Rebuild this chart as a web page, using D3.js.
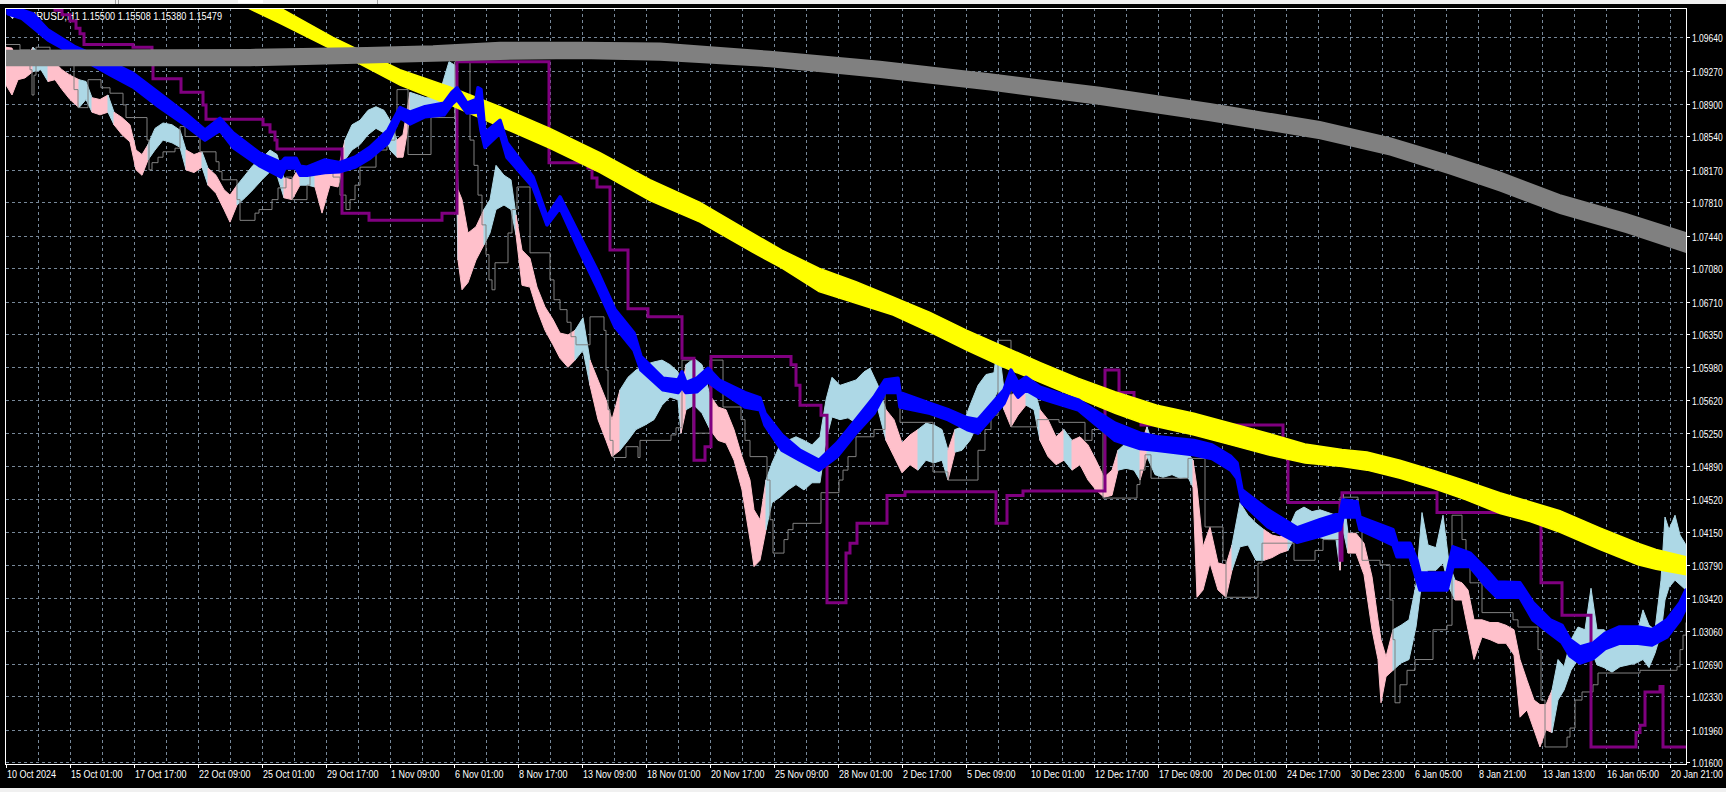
<!DOCTYPE html>
<meta charset="utf-8">
<style>
body { margin: 0; background: #000; }
svg { display: block; font-family: "Liberation Sans", Arial, sans-serif; }
.grid line { stroke: #778899; stroke-dasharray: 3,3; shape-rendering: crispEdges; }
.frame { fill: none; stroke: #fff; shape-rendering: crispEdges; }
.axis text { fill: #fff; font-size: 10px; }
.axis line { stroke: #fff; shape-rendering: crispEdges; }
</style>
<body>
<script src="https://cdn.jsdelivr.net/npm/d3@7/dist/d3.min.js"></script>
<script>

var width = 1726, height = 792;
var plotL = 6, plotR = 1686, plotT = 8, plotB = 764;

var symbol = "EURUSD,H1";
var quote = "1.15500 1.15508 1.15380 1.15479";

var priceTicks = ["1.09640", "1.09270", "1.08900", "1.08540", "1.08170", "1.07810",
  "1.07440", "1.07080", "1.06710", "1.06350", "1.05980", "1.05620", "1.05250",
  "1.04890", "1.04520", "1.04150", "1.03790", "1.03420", "1.03060", "1.02690",
  "1.02330", "1.01960", "1.01600"];

var timeLabels = ["10 Oct 2024", "15 Oct 01:00", "17 Oct 17:00", "22 Oct 09:00",
  "25 Oct 01:00", "29 Oct 17:00", "1 Nov 09:00", "6 Nov 01:00", "8 Nov 17:00",
  "13 Nov 09:00", "18 Nov 01:00", "20 Nov 17:00", "25 Nov 09:00", "28 Nov 01:00",
  "2 Dec 17:00", "5 Dec 09:00", "10 Dec 01:00", "12 Dec 17:00", "17 Dec 09:00",
  "20 Dec 01:00", "24 Dec 17:00", "30 Dec 23:00", "6 Jan 05:00", "8 Jan 21:00",
  "13 Jan 13:00", "16 Jan 05:00", "20 Jan 21:00"];

// hourly bars, sampled: [bar, high, low, rising]
var priceRows = [
  [0,1.0953,1.0911,0],[6,1.0952,1.0900,0],[12,1.0937,1.0917,0],[19,1.0939,1.0919,0],
  [27,1.0953,1.0926,1],[35,1.0944,1.0928,1],[42,1.0933,1.0915,0],[49,1.0936,1.0917,0],
  [56,1.0928,1.0906,0],[64,1.0922,1.0895,0],[73,1.0917,1.0886,1],[80,1.0915,1.0895,1],
  [86,1.0897,1.0881,0],[94,1.0895,1.0878,0],[102,1.0900,1.0881,1],[108,1.0881,1.0867,0],
  [116,1.0875,1.0856,0],[124,1.0867,1.0848,0],[130,1.0839,1.0817,0],[136,1.0834,1.0811,0],
  [142,1.0845,1.0828,1],[149,1.0863,1.0839,1],[157,1.0869,1.0850,1],[166,1.0867,1.0847,1],
  [174,1.0861,1.0842,1],[180,1.0839,1.0817,0],[188,1.0834,1.0814,0],[196,1.0837,1.0820,1],
  [202,1.0819,1.0800,0],[210,1.0811,1.0791,0],[218,1.0795,1.0773,0],[224,1.0789,1.0759,0],
  [231,1.0800,1.0778,1],[239,1.0811,1.0786,1],[247,1.0822,1.0795,1],[256,1.0830,1.0806,1],
  [264,1.0839,1.0815,1],[271,1.0834,1.0811,1],[278,1.0808,1.0786,0],[286,1.0806,1.0784,0],
  [294,1.0822,1.0800,1],[302,1.0819,1.0800,1],[309,1.0822,1.0798,0],[316,1.0817,1.0769,0],
  [324,1.0819,1.0800,0],[332,1.0817,1.0798,0],[339,1.0850,1.0828,1],[346,1.0867,1.0839,1],
  [354,1.0872,1.0845,1],[362,1.0883,1.0856,1],[370,1.0887,1.0863,1],[378,1.0883,1.0858,1],
  [384,1.0872,1.0839,1],[391,1.0850,1.0831,0],[397,1.0856,1.0831,0],[404,1.0903,1.0876,1],
  [412,1.0900,1.0878,1],[420,1.0897,1.0880,1],[428,1.0897,1.0881,1],[436,1.0911,1.0889,1],
  [443,1.0937,1.0900,1],[449,1.0933,1.0895,1],[452,1.0795,1.0717,0],[456,1.0784,1.0684,0],
  [462,1.0747,1.0692,0],[470,1.0754,1.0717,0],[478,1.0773,1.0734,1],[484,1.0784,1.0747,1],
  [490,1.0822,1.0773,1],[498,1.0811,1.0778,1],[505,1.0806,1.0773,1],[510,1.0767,1.0745,0],
  [516,1.0728,1.0689,0],[524,1.0719,1.0687,0],[531,1.0687,1.0662,0],[539,1.0665,1.0639,0],
  [547,1.0651,1.0623,0],[554,1.0636,1.0608,0],[562,1.0634,1.0598,0],[569,1.0639,1.0606,1],
  [577,1.0653,1.0617,1],[584,1.0606,1.0578,0],[592,1.0584,1.0540,0],[600,1.0562,1.0517,0],
  [606,1.0540,1.0499,0],[614,1.0573,1.0506,1],[622,1.0587,1.0517,1],[630,1.0595,1.0529,1],
  [639,1.0601,1.0534,1],[648,1.0604,1.0540,1],[656,1.0606,1.0556,1],[664,1.0601,1.0565,1],
  [672,1.0593,1.0562,1],[675,1.0570,1.0525,0],[680,1.0601,1.0551,1],[688,1.0608,1.0556,1],
  [696,1.0601,1.0547,1],[704,1.0567,1.0529,0],[712,1.0554,1.0517,0],[720,1.0551,1.0514,0],
  [728,1.0529,1.0495,0],[736,1.0499,1.0462,0],[744,1.0473,1.0407,0],[748,1.0440,1.0377,0],
  [754,1.0429,1.0384,0],[760,1.0473,1.0418,1],[766,1.0492,1.0448,1],[774,1.0512,1.0454,1],
  [782,1.0517,1.0462,1],[790,1.0521,1.0468,1],[798,1.0517,1.0462,1],[806,1.0512,1.0470,1],
  [814,1.0521,1.0470,1],[820,1.0562,1.0517,1],[826,1.0587,1.0543,1],[834,1.0578,1.0540,1],
  [842,1.0581,1.0542,1],[850,1.0584,1.0536,1],[858,1.0593,1.0551,1],[864,1.0597,1.0556,1],
  [872,1.0578,1.0551,1],[880,1.0551,1.0517,0],[888,1.0540,1.0499,0],[896,1.0514,1.0481,0],
  [904,1.0523,1.0490,0],[912,1.0529,1.0484,1],[920,1.0536,1.0495,1],[928,1.0534,1.0492,1],
  [936,1.0529,1.0495,1],[942,1.0506,1.0473,0],[949,1.0529,1.0504,1],[956,1.0532,1.0506,1],
  [964,1.0556,1.0517,1],[972,1.0578,1.0536,1],[980,1.0590,1.0545,1],[988,1.0592,1.0562,1],
  [992,1.0628,1.0573,1],[998,1.0573,1.0551,0],[1005,1.0567,1.0532,0],[1012,1.0573,1.0545,0],
  [1020,1.0581,1.0556,1],[1028,1.0575,1.0551,1],[1034,1.0551,1.0517,0],[1042,1.0540,1.0499,0],
  [1050,1.0521,1.0490,0],[1058,1.0529,1.0495,1],[1066,1.0517,1.0484,0],[1074,1.0521,1.0490,0],
  [1082,1.0512,1.0473,0],[1090,1.0495,1.0462,0],[1098,1.0476,1.0454,0],[1106,1.0484,1.0456,0],
  [1112,1.0506,1.0484,1],[1120,1.0514,1.0486,1],[1128,1.0512,1.0484,1],[1134,1.0510,1.0473,0],
  [1141,1.0532,1.0499,1],[1149,1.0506,1.0479,1],[1157,1.0504,1.0476,1],[1166,1.0506,1.0479,1],
  [1174,1.0501,1.0475,1],[1182,1.0503,1.0476,1],[1187,1.0495,1.0465,0],[1191,1.0465,1.0343,0],
  [1197,1.0399,1.0351,0],[1204,1.0421,1.0381,0],[1212,1.0381,1.0351,0],[1220,1.0379,1.0343,0],
  [1226,1.0401,1.0373,1],[1234,1.0448,1.0399,1],[1242,1.0434,1.0401,1],[1250,1.0425,1.0384,1],
  [1258,1.0418,1.0384,0],[1266,1.0412,1.0387,0],[1274,1.0410,1.0392,0],[1282,1.0418,1.0395,1],
  [1290,1.0438,1.0412,1],[1298,1.0443,1.0418,1],[1306,1.0438,1.0412,1],[1314,1.0440,1.0409,1],
  [1322,1.0437,1.0407,1],[1330,1.0434,1.0407,1],[1334,1.0407,1.0373,0],[1337,1.0459,1.0418,1],
  [1342,1.0414,1.0392,0],[1350,1.0414,1.0392,0],[1358,1.0403,1.0368,0],[1366,1.0366,1.0307,0],
  [1372,1.0318,1.0274,0],[1375,1.0296,1.0226,0],[1380,1.0277,1.0255,0],[1387,1.0307,1.0262,1],
  [1395,1.0312,1.0270,1],[1403,1.0318,1.0274,1],[1410,1.0357,1.0310,1],[1416,1.0437,1.0362,1],
  [1422,1.0401,1.0373,1],[1430,1.0398,1.0373,1],[1437,1.0434,1.0381,1],[1443,1.0381,1.0354,1],
  [1449,1.0362,1.0340,0],[1456,1.0359,1.0340,0],[1462,1.0351,1.0307,0],[1468,1.0318,1.0274,0],
  [1476,1.0318,1.0299,0],[1484,1.0315,1.0296,0],[1492,1.0315,1.0292,0],[1500,1.0312,1.0292,0],
  [1508,1.0307,1.0279,0],[1514,1.0274,1.0210,0],[1521,1.0251,1.0218,0],[1528,1.0229,1.0196,0],
  [1534,1.0224,1.0177,0],[1540,1.0224,1.0196,0],[1546,1.0240,1.0193,1],[1552,1.0274,1.0229,1],
  [1558,1.0266,1.0240,1],[1565,1.0296,1.0262,1],[1572,1.0310,1.0274,1],[1579,1.0307,1.0274,1],
  [1585,1.0353,1.0285,1],[1591,1.0307,1.0268,1],[1598,1.0307,1.0265,1],[1606,1.0299,1.0260,1],
  [1614,1.0296,1.0266,1],[1622,1.0296,1.0268,1],[1630,1.0299,1.0270,1],[1637,1.0329,1.0274,1],
  [1643,1.0312,1.0265,1],[1649,1.0307,1.0281,1],[1655,1.0362,1.0303,1],[1659,1.0432,1.0340,1],
  [1663,1.0418,1.0354,1],[1669,1.0434,1.0362,1],[1674,1.0412,1.0357,1],[1680,1.0401,1.0351,1]
];

// band indicators: [bar, upper, lower]
var blueBand = [
  [2,1.0999,1.0990],[16,1.0994,1.0985],[27,1.0990,1.0975],[42,1.0972,1.0961],[68,1.0954,1.0945],
  [105,1.0936,1.0922],[127,1.0924,1.0909],[153,1.0902,1.0887],[179,1.0880,1.0867],[199,1.0861,1.0850],
  [214,1.0874,1.0861],[227,1.0858,1.0842],[253,1.0836,1.0822],[275,1.0825,1.0809],[279,1.0830,1.0819],
  [290,1.0830,1.0819],[294,1.0821,1.0811],[301,1.0820,1.0811],[319,1.0828,1.0814],[334,1.0825,1.0815],
  [349,1.0831,1.0820],[364,1.0842,1.0830],[382,1.0861,1.0847],[394,1.0886,1.0875],[404,1.0881,1.0868],
  [419,1.0887,1.0876],[438,1.0891,1.0878],[446,1.0903,1.0890],[451,1.0908,1.0895],[461,1.0891,1.0880],
  [470,1.0895,1.0881],[472,1.0908,1.0883],[475,1.0906,1.0861],[479,1.0858,1.0842],[494,1.0872,1.0858],
  [501,1.0847,1.0831],[527,1.0809,1.0798],[541,1.0765,1.0756],[554,1.0787,1.0775],[574,1.0743,1.0726],
  [591,1.0706,1.0687],[609,1.0662,1.0643],[628,1.0636,1.0617],[635,1.0610,1.0595],[657,1.0586,1.0573],
  [672,1.0584,1.0570],[676,1.0593,1.0576],[680,1.0581,1.0570],[691,1.0586,1.0571],[702,1.0597,1.0582],
  [713,1.0584,1.0573],[739,1.0570,1.0554],[754,1.0564,1.0551],[759,1.0547,1.0534],[776,1.0523,1.0506],
  [794,1.0506,1.0495],[813,1.0495,1.0484],[831,1.0514,1.0499],[850,1.0540,1.0525],[868,1.0565,1.0547],
  [879,1.0584,1.0570],[892,1.0586,1.0570],[894,1.0570,1.0554],[924,1.0558,1.0547],[942,1.0551,1.0540],
  [961,1.0542,1.0529],[972,1.0540,1.0525],[998,1.0573,1.0558],[1005,1.0595,1.0576],[1012,1.0581,1.0565],
  [1020,1.0587,1.0573],[1034,1.0576,1.0564],[1072,1.0562,1.0551],[1109,1.0536,1.0517],[1134,1.0525,1.0508],
  [1151,1.0521,1.0506],[1188,1.0517,1.0501],[1206,1.0512,1.0497],[1225,1.0499,1.0484],[1231,1.0492,1.0475],
  [1236,1.0462,1.0448],[1262,1.0440,1.0421],[1291,1.0420,1.0404],[1314,1.0429,1.0411],[1334,1.0436,1.0418],
  [1337,1.0451,1.0432],[1351,1.0449,1.0432],[1354,1.0432,1.0418],[1387,1.0418,1.0401],[1391,1.0403,1.0388],
  [1404,1.0403,1.0388],[1411,1.0384,1.0362],[1414,1.0370,1.0351],[1441,1.0370,1.0351],[1447,1.0399,1.0377],
  [1464,1.0392,1.0377],[1481,1.0373,1.0354],[1491,1.0360,1.0343],[1514,1.0359,1.0343],[1527,1.0337,1.0318],
  [1544,1.0318,1.0303],[1556,1.0312,1.0293],[1564,1.0296,1.0278],[1574,1.0288,1.0270],[1587,1.0292,1.0275],
  [1599,1.0303,1.0286],[1613,1.0310,1.0292],[1632,1.0310,1.0292],[1646,1.0307,1.0290],[1661,1.0318,1.0299],
  [1674,1.0337,1.0318],[1680,1.0351,1.0332]
];

var yellowBand = [
  [224,1.1025,1.1006],[275,1.0996,1.0979],[327,1.0964,1.0950],[394,1.0928,1.0911],[444,1.0909,1.0889],
  [494,1.0887,1.0865],[544,1.0863,1.0841],[594,1.0836,1.0814],[644,1.0806,1.0783],[694,1.0781,1.0759],
  [746,1.0747,1.0726],[776,1.0728,1.0708],[813,1.0708,1.0682],[850,1.0693,1.0669],[887,1.0676,1.0656],
  [924,1.0659,1.0637],[961,1.0639,1.0617],[998,1.0621,1.0598],[1035,1.0603,1.0581],[1072,1.0586,1.0564],
  [1109,1.0571,1.0547],[1134,1.0562,1.0537],[1151,1.0556,1.0532],[1188,1.0547,1.0523],[1225,1.0536,1.0512],
  [1262,1.0525,1.0501],[1299,1.0513,1.0492],[1336,1.0507,1.0488],[1361,1.0504,1.0484],[1394,1.0495,1.0475],
  [1427,1.0484,1.0464],[1460,1.0472,1.0451],[1494,1.0459,1.0436],[1524,1.0449,1.0427],[1554,1.0439,1.0415],
  [1594,1.0420,1.0396],[1632,1.0403,1.0379],[1650,1.0396,1.0374],[1680,1.0388,1.0368]
];

var grayBand = [
  [0,1.0949,1.0933],[244,1.0950,1.0933],[361,1.0952,1.0936],[427,1.0954,1.0938],[494,1.0958,1.0940],
  [574,1.0958,1.0941],[654,1.0957,1.0939],[764,1.0948,1.0932],[874,1.0937,1.0920],[984,1.0923,1.0906],
  [1094,1.0908,1.0890],[1204,1.0890,1.0872],[1314,1.0870,1.0852],[1384,1.0852,1.0834],[1444,1.0832,1.0813],
  [1494,1.0814,1.0794],[1554,1.0789,1.0769],[1620,1.0768,1.0748],[1680,1.0747,1.0726]
];

// step lines: [bar, value from this bar on]
var purpleLine = [
  [0,1.1005],[49,1.0994],[56,1.0989],[64,1.0982],[70,1.0974],[74,1.0968],[78,1.0956],[127,1.0953],
  [146,1.0936],[147,1.0918],[175,1.0903],[197,1.0889],[200,1.0873],[257,1.0867],[264,1.0859],
  [269,1.0850],[271,1.0840],[336,1.0769],[363,1.0761],[436,1.0769],[451,1.0937],[543,1.0825],
  [582,1.0819],[586,1.0808],[591,1.0798],[604,1.0728],[622,1.0663],[642,1.0654],[676,1.0608],
  [688,1.0495],[699,1.0510],[705,1.0610],[785,1.0601],[790,1.0578],[794,1.0556],[815,1.0545],
  [821,1.0337],[840,1.0392],[844,1.0403],[851,1.0425],[881,1.0456],[899,1.0460],[990,1.0425],
  [1001,1.0456],[1017,1.0461],[1099,1.0595],[1113,1.0570],[1128,1.0560],[1135,1.0534],[1277,1.0499],
  [1282,1.0448],[1334,1.0384],[1336,1.0459],[1431,1.0437],[1535,1.0359],[1556,1.0323],[1585,1.0177],
  [1630,1.0193],[1634,1.0201],[1639,1.0238],[1654,1.0244],[1657,1.0177],[1680,1.0177]
];

var grayLine = [
  [0,1.0956],[14,1.0950],[24,1.0928],[26,1.0900],[28,1.0922],[30,1.0953],[44,1.0948],[64,1.0936],
  [68,1.0906],[72,1.0886],[82,1.0917],[95,1.0908],[104,1.0902],[117,1.0889],[120,1.0875],[141,1.0850],
  [143,1.0817],[146,1.0825],[152,1.0831],[157,1.0837],[169,1.0841],[174,1.0865],[179,1.0854],
  [194,1.0837],[210,1.0826],[213,1.0815],[216,1.0806],[231,1.0784],[234,1.0761],[249,1.0769],
  [253,1.0773],[266,1.0784],[272,1.0797],[280,1.0809],[286,1.0784],[301,1.0800],[304,1.0817],
  [327,1.0809],[334,1.0789],[340,1.0773],[344,1.0784],[349,1.0800],[354,1.0820],[370,1.0839],
  [381,1.0850],[389,1.0865],[391,1.0906],[402,1.0834],[425,1.0875],[449,1.0937],[464,1.0850],
  [468,1.0822],[472,1.0789],[476,1.0756],[480,1.0723],[483,1.0695],[486,1.0684],[489,1.0714],
  [502,1.0747],[506,1.0773],[511,1.0798],[524,1.0725],[544,1.0695],[548,1.0673],[554,1.0662],
  [561,1.0648],[565,1.0632],[570,1.0623],[584,1.0654],[598,1.0639],[600,1.0595],[602,1.0551],
  [604,1.0517],[607,1.0498],[620,1.0510],[632,1.0498],[634,1.0517],[665,1.0523],[670,1.0531],
  [676,1.0606],[687,1.0525],[704,1.0606],[717,1.0554],[735,1.0540],[739,1.0517],[744,1.0499],
  [761,1.0473],[764,1.0429],[767,1.0392],[778,1.0407],[782,1.0418],[787,1.0425],[815,1.0459],
  [833,1.0473],[837,1.0484],[842,1.0499],[850,1.0521],[868,1.0529],[879,1.0573],[894,1.0537],
  [927,1.0482],[942,1.0473],[972,1.0506],[979,1.0529],[985,1.0545],[992,1.0628],[1005,1.0532],
  [1031,1.0540],[1053,1.0537],[1079,1.0517],[1086,1.0529],[1097,1.0453],[1131,1.0468],[1134,1.0484],
  [1139,1.0501],[1145,1.0475],[1182,1.0497],[1199,1.0421],[1217,1.0384],[1220,1.0343],[1252,1.0381],
  [1256,1.0403],[1288,1.0384],[1309,1.0395],[1317,1.0407],[1334,1.0454],[1352,1.0429],[1356,1.0384],
  [1374,1.0379],[1384,1.0340],[1387,1.0296],[1389,1.0226],[1394,1.0246],[1401,1.0262],[1409,1.0274],
  [1427,1.0307],[1441,1.0312],[1446,1.0434],[1456,1.0407],[1460,1.0384],[1464,1.0359],[1476,1.0326],
  [1507,1.0318],[1512,1.0310],[1532,1.0285],[1535,1.0229],[1539,1.0177],[1561,1.0188],[1564,1.0198],
  [1569,1.0229],[1576,1.0238],[1587,1.0246],[1592,1.0259],[1634,1.0262],[1671,1.0266],[1674,1.0285],
  [1677,1.0301],[1680,1.0315]
];

var x = d3.scaleLinear().domain([0, 1680]).range([plotL, plotR]);
var y = d3.scaleLinear().domain([1.016, 1.0964]).range([762.3, 37.3]);

var svg = d3.select("body").append("svg")
    .attr("width", width)
    .attr("height", height)
    .style("background", "#000");

// window chrome strips
svg.append("rect").attr("width", width).attr("height", 4).attr("fill", "#f0f0f0");
[115, 118, 377].forEach(function(px) {
  svg.append("line").attr("x1", px + .5).attr("x2", px + .5).attr("y1", 0).attr("y2", 4)
      .attr("stroke", "#a0a0a0");
});
svg.append("rect").attr("x", 238).attr("width", 25).attr("height", 3).attr("fill", "#fff");
svg.append("rect").attr("y", 788).attr("width", width).attr("height", 4).attr("fill", "#f0f0f0");

svg.append("clipPath").attr("id", "plot")
  .append("rect")
    .attr("x", plotL).attr("y", plotT + 1)
    .attr("width", plotR - plotL).attr("height", plotB - plotT - 1);

// grid
var grid = svg.append("g").attr("class", "grid");
grid.selectAll(".h")
    .data(priceTicks)
  .enter().append("line")
    .attr("x1", plotL).attr("x2", plotR)
    .attr("y1", function(d) { return Math.round(y(+d)) + .5; })
    .attr("y2", function(d) { return Math.round(y(+d)) + .5; });
grid.selectAll(".v")
    .data(d3.range(32, 1680, 32))
  .enter().append("line")
    .attr("x1", function(d) { return x(d) + .5; })
    .attr("x2", function(d) { return x(d) + .5; })
    .attr("y1", plotT).attr("y2", plotB);

// chart caption
svg.append("path").attr("d", "M9,15L16,15L12.5,19Z").attr("fill", "#fff");
svg.append("text").attr("x", 22).attr("y", 19.5)
    .attr("fill", "#fff").style("font-size", "10px")
    .text(symbol);
svg.append("text").attr("x", 82).attr("y", 19.5)
    .attr("fill", "#fff").style("font-size", "10px")
    .attr("textLength", 140).attr("lengthAdjust", "spacingAndGlyphs")
    .text(quote);

var plot = svg.append("g").attr("clip-path", "url(#plot)");

// price: runs of rising / falling bars
var runs = [], cur = null;
priceRows.forEach(function(d) {
  if (!cur || cur.up !== d[3]) {
    if (cur) cur.pts.push(d);
    cur = {up: d[3], pts: [d]};
    runs.push(cur);
  } else {
    cur.pts.push(d);
  }
});

var priceArea = d3.area()
    .x(function(d) { return x(d[0]); })
    .y0(function(d) { return y(d[2]); })
    .y1(function(d) { return y(d[1]); });

plot.selectAll(".run")
    .data(runs)
  .enter().append("path")
    .attr("d", function(r) { return priceArea(r.pts); })
    .attr("fill", function(r) { return r.up ? "#add8e6" : "#ffc0cb"; })
    .attr("stroke", function(r) { return r.up ? "#add8e6" : "#ffc0cb"; })
    .attr("stroke-width", 1)
    .attr("stroke-linejoin", "miter");

var step = d3.line()
    .x(function(d) { return x(d[0]); })
    .y(function(d) { return y(d[1]); })
    .curve(d3.curveStepAfter);

plot.append("path")
    .attr("d", step(grayLine))
    .attr("fill", "none")
    .attr("stroke", "#808080")
    .attr("stroke-width", 1);

plot.append("path")
    .attr("d", step(purpleLine))
    .attr("fill", "none")
    .attr("stroke", "#800080")
    .attr("stroke-width", 3);

var band = d3.area()
    .x(function(d) { return x(d[0]); })
    .y0(function(d) { return y(d[2]); })
    .y1(function(d) { return y(d[1]); });

plot.append("path").attr("d", band(yellowBand))
    .attr("fill", "#ffff00").attr("stroke", "#ffff00").attr("stroke-width", 1.5);
plot.append("path").attr("d", band(blueBand))
    .attr("fill", "#0000ff").attr("stroke", "#0000ff").attr("stroke-width", 3.5)
    .attr("stroke-linejoin", "round");
plot.append("path").attr("d", band(grayBand))
    .attr("fill", "#808080").attr("stroke", "#808080").attr("stroke-width", 2);

// frame
svg.append("rect").attr("class", "frame")
    .attr("x", plotL - .5).attr("y", plotT + .5)
    .attr("width", plotR - plotL + 1).attr("height", plotB - plotT);

// price axis
var yAxis = svg.append("g").attr("class", "axis");
yAxis.selectAll("line")
    .data(priceTicks)
  .enter().append("line")
    .attr("x1", plotR + .5).attr("x2", plotR + 4)
    .attr("y1", function(d) { return Math.round(y(+d)) + .5; })
    .attr("y2", function(d) { return Math.round(y(+d)) + .5; });
yAxis.selectAll("text")
    .data(priceTicks)
  .enter().append("text")
    .attr("transform", function(d) {
      return "translate(" + (plotR + 6) + "," + (Math.round(y(+d)) + 4.5) + ") scale(0.85,1)";
    })
    .text(function(d) { return d; });

// time axis
var xAxis = svg.append("g").attr("class", "axis");
xAxis.selectAll("line")
    .data(timeLabels)
  .enter().append("line")
    .attr("x1", function(d, i) { return x(i * 64) + .5; })
    .attr("x2", function(d, i) { return x(i * 64) + .5; })
    .attr("y1", plotB).attr("y2", plotB + 4);
xAxis.selectAll("text")
    .data(timeLabels)
  .enter().append("text")
    .attr("transform", function(d, i) {
      return "translate(" + (x(i * 64) + 1) + ",778) scale(0.9,1)";
    })
    .text(function(d) { return d; });

</script>
